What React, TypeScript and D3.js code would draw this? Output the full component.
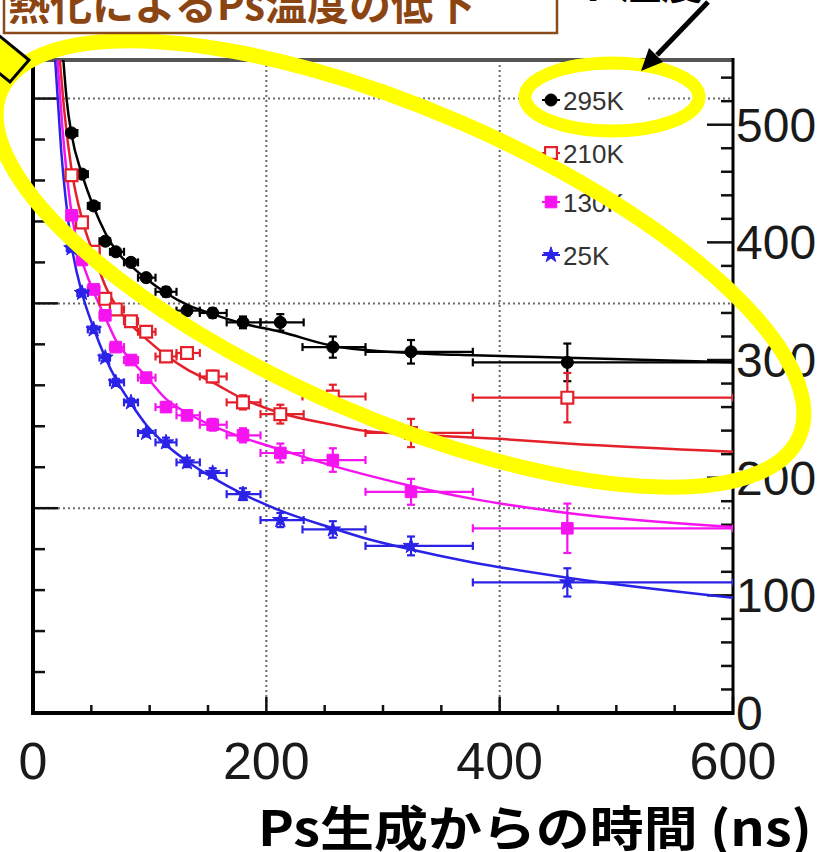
import React, { useEffect, useRef } from 'react';
import * as d3 from 'd3';

// time bins (ns) shared by all temperatures
const times = [33, 42, 52, 62, 71, 84, 97, 114, 132, 154, 180, 212, 257, 324, 458];
const binLo = [29, 38, 47, 57, 66, 78, 90, 105, 123, 143, 166, 195, 231, 285, 377];
const binHi = [38, 47, 57, 66, 78, 90, 105, 123, 143, 166, 195, 232, 285, 377, 600];

// Ps temperature (K) per target temperature
const temp295 = [493, 458, 431, 401, 392, 383, 370, 358, 342, 340, 332, 332, 311, 307, 298];
const err295 = [3, 3, 3, 3, 3, 3, 3, 4, 4, 4, 5, 7, 9, 10, 16];
const temp210 = [457, 417, 392, 352, 343, 333, 324, 303, 306, 286, 264, 254, 269, 238, 268];
const err210 = [3, 3, 3, 3, 3, 3, 4, 4, 4, 5, 6, 8, 10, 12, 21];
const temp130 = [423, 385, 360, 338, 311, 300, 285, 260, 253, 245, 236, 221, 215, 188, 157];
const err130 = [3, 3, 3, 3, 3, 3, 4, 4, 4, 5, 6, 8, 10, 11, 21];
const temp25 = [395, 357, 326, 302, 281, 264, 238, 230, 213, 204, 186, 164, 156, 142, 111];
const err25 = [3, 3, 3, 3, 3, 3, 3, 4, 4, 4, 5, 6, 7, 8, 12];

// fitted curves: [time ns, temperature K]
const fit295: [number, number][] = [[26, 555], [29, 520], [33, 492], [42, 458], [52, 430], [62, 408], [72, 392], [84, 380], [97, 369], [114, 357], [132, 347], [154, 339], [180, 331], [212, 324], [257, 312], [324, 306], [377, 304], [458, 302], [600, 298]];
const fit210: [number, number][] = [[23, 555], [27, 510], [33, 462], [42, 420], [52, 390], [62, 363], [72, 345], [84, 330], [97, 318], [114, 304], [132, 292], [154, 281], [180, 267], [212, 255], [257, 245], [283, 240], [324, 237], [400, 233], [458, 229], [600, 222]];
const fit130: [number, number][] = [[21, 555], [25, 500], [33, 425], [42, 385], [52, 358], [62, 336], [72, 315], [84, 300], [97, 286], [114, 267], [132, 255], [154, 244], [180, 234], [212, 224], [257, 210], [283, 203], [324, 193], [377, 182], [458, 170], [600, 158]];
const fit25: [number, number][] = [[19, 555], [24, 480], [33, 398], [42, 357], [52, 327], [62, 302], [72, 282], [84, 263], [97, 245], [114, 228], [132, 214], [154, 200], [180, 186], [212, 172], [257, 157], [283, 149], [324, 139], [377, 128], [458, 115], [600, 98]];

const labels = ['295K', '210K', '130K', '25K'];
const xTickLabels = [0, 200, 400, 600];
const yTickLabels = [0, 100, 200, 300, 400, 500];

const series = [
  { label: labels[0], color: '#000000', shape: 'circle', values: temp295, errors: err295, fit: fit295 },
  { label: labels[1], color: '#e4202a', shape: 'openSquare', values: temp210, errors: err210, fit: fit210 },
  { label: labels[2], color: '#f514f0', shape: 'square', values: temp130, errors: err130, fit: fit130 },
  { label: labels[3], color: '#2a22e6', shape: 'star', values: temp25, errors: err25, fit: fit25 },
];

const kB = 0.08617; // meV per K

function drawMarker(g: any, shape: string, color: string, cx: number, cy: number) {
  const symType = shape === 'circle' ? d3.symbolCircle : shape === 'star' ? d3.symbolStar : d3.symbolSquare;
  const size = shape === 'circle' ? 115 : shape === 'star' ? 75 : shape === 'openSquare' ? 140 : 135;
  g.append('path')
    .attr('d', d3.symbol().type(symType).size(size)())
    .attr('transform', `translate(${cx},${cy})`)
    .attr('fill', shape === 'openSquare' ? '#ffffff' : color)
    .attr('stroke', color)
    .attr('stroke-width', shape === 'openSquare' ? 2.2 : 1);
}

function Chart() {
  const svgRef = useRef<SVGSVGElement>(null);

  useEffect(() => {
    const svg = d3.select(svgRef.current);
    svg.selectAll('*').remove();

    const x = d3.scaleLinear().domain([0, 600]).range([33, 733]);
    const y = d3.scaleLinear().domain([0, 555]).range([713, 60]);
    const yE = d3.scaleLinear().domain([0, 555 * kB]).range([713, 60]);
    const [x0, x1] = x.range();
    const [yb, yt] = y.range();

    svg.append('rect').attr('width', 820).attr('height', 852).attr('fill', '#ffffff');

    const defs = svg.append('defs');
    defs.append('clipPath').attr('id', 'plotClip')
      .append('rect').attr('x', x0).attr('y', yt).attr('width', x1 - x0).attr('height', yb - yt);

    // dotted grid
    const grid = svg.append('g').attr('stroke', '#6a6a6a').attr('stroke-width', 2).attr('stroke-dasharray', '2 3');
    [15, 30, 45].forEach(v => {
      grid.append('line').attr('x1', x0).attr('x2', x1).attr('y1', yE(v)).attr('y2', yE(v));
    });
    [200, 400].forEach(v => {
      grid.append('line').attr('x1', x(v)).attr('x2', x(v)).attr('y1', yt).attr('y2', yb);
    });

    // ticks
    const ticks = svg.append('g').attr('stroke', '#111').attr('stroke-width', 2.5);
    d3.range(0, 601, 50).forEach(v => {
      const len = v % 200 === 0 ? 16 : 8;
      ticks.append('line').attr('x1', x(v)).attr('x2', x(v)).attr('y1', yb).attr('y2', yb - len);
    });
    d3.range(0, 48, 3).forEach(v => {
      const len = v % 15 === 0 ? 25 : 12;
      ticks.append('line').attr('x1', x0).attr('x2', x0 + len).attr('y1', yE(v)).attr('y2', yE(v));
    });
    d3.range(0, 555, 20).forEach(v => {
      const len = v % 100 === 0 ? 26 : 12;
      ticks.append('line').attr('x1', x1).attr('x2', x1 - len).attr('y1', y(v)).attr('y2', y(v));
    });

    // frame
    svg.append('line').attr('x1', x0 - 1).attr('x2', x1 + 1).attr('y1', yt).attr('y2', yt)
      .attr('stroke', '#555').attr('stroke-width', 4);
    svg.append('line').attr('x1', x0).attr('x2', x0).attr('y1', yt - 2).attr('y2', yb + 2)
      .attr('stroke', '#000').attr('stroke-width', 4);
    svg.append('line').attr('x1', x0 - 2).attr('x2', x1 + 1).attr('y1', yb).attr('y2', yb)
      .attr('stroke', '#000').attr('stroke-width', 4);
    svg.append('line').attr('x1', x1).attr('x2', x1).attr('y1', yt - 2).attr('y2', yb + 2)
      .attr('stroke', '#000').attr('stroke-width', 3);

    // tick labels
    const font = '"Liberation Sans", Arial, Helvetica, sans-serif';
    svg.append('g').selectAll('text').data(xTickLabels).join('text')
      .attr('x', d => x(d)).attr('y', 779)
      .attr('text-anchor', 'middle').attr('font-family', font).attr('font-size', 52)
      .attr('fill', '#1a1a1a').text(d => d);
    svg.append('g').selectAll('text').data(yTickLabels).join('text')
      .attr('x', 736).attr('y', d => y(d) + 17)
      .attr('text-anchor', 'start').attr('font-family', font).attr('font-size', 48)
      .attr('fill', '#1a1a1a').text(d => d);

    // data
    const plot = svg.append('g').attr('clip-path', 'url(#plotClip)');
    const lineFn = d3.line<[number, number]>()
      .curve(d3.curveMonotoneX)
      .x(d => x(d[0]))
      .y(d => y(d[1]));

    series.forEach(s => {
      plot.append('path').attr('d', lineFn(s.fit)).attr('fill', 'none')
        .attr('stroke', s.color).attr('stroke-width', 2.5);
    });

    series.forEach(s => {
      const g = plot.append('g');
      const bars = g.append('g').attr('stroke', s.color).attr('stroke-width', 2.2);
      times.forEach((t, i) => {
        const v = s.values[i];
        const e = s.errors[i];
        bars.append('line').attr('x1', x(binLo[i])).attr('x2', x(binHi[i])).attr('y1', y(v)).attr('y2', y(v));
        bars.append('line').attr('x1', x(binLo[i])).attr('x2', x(binLo[i])).attr('y1', y(v) - 4).attr('y2', y(v) + 4);
        bars.append('line').attr('x1', x(binHi[i])).attr('x2', x(binHi[i])).attr('y1', y(v) - 4).attr('y2', y(v) + 4);
        bars.append('line').attr('x1', x(t)).attr('x2', x(t)).attr('y1', y(v - e)).attr('y2', y(v + e));
        bars.append('line').attr('x1', x(t) - 4).attr('x2', x(t) + 4).attr('y1', y(v - e)).attr('y2', y(v - e));
        bars.append('line').attr('x1', x(t) - 4).attr('x2', x(t) + 4).attr('y1', y(v + e)).attr('y2', y(v + e));
      });
      times.forEach((t, i) => drawMarker(g, s.shape, s.color, x(t), y(s.values[i])));
    });

    // legend
    const legend = svg.append('g');
    legend.append('rect').attr('x', 528).attr('y', 78).attr('width', 118).attr('height', 198).attr('fill', '#ffffff');
    const legendRows = [100, 153, 202, 255];
    series.forEach((s, i) => {
      const cy = legendRows[i];
      legend.append('line').attr('x1', 542).attr('x2', 560).attr('y1', cy).attr('y2', cy)
        .attr('stroke', s.color).attr('stroke-width', 2);
      drawMarker(legend, s.shape, s.color, 551, cy);
      legend.append('text').attr('x', 563).attr('y', cy + 10)
        .attr('font-family', font).attr('font-size', 26).attr('fill', '#333')
        .text(s.label);
    });

    // annotations
    const ann = svg.append('g');
    ann.append('ellipse').attr('cx', 400).attr('cy', 264).attr('rx', 435).attr('ry', 154)
      .attr('transform', 'rotate(23.4 400 264)')
      .attr('fill', 'none').attr('stroke', '#ffff00').attr('stroke-width', 15);
    ann.append('ellipse').attr('cx', 612).attr('cy', 97).attr('rx', 87).attr('ry', 34)
      .attr('fill', 'none').attr('stroke', '#ffff00').attr('stroke-width', 13);
    ann.append('polygon').attr('points', '-39,42 -20,20 29,60 10,82')
      .attr('fill', '#ffff00').attr('stroke', '#000').attr('stroke-width', 3);

    ann.append('line').attr('x1', 708).attr('y1', 2).attr('x2', 657).attr('y2', 55)
      .attr('stroke', '#000').attr('stroke-width', 5);
    ann.append('polygon').attr('points', '641,71 663,62 649,48').attr('fill', '#000');

    ann.append('text').attr('x', 703).attr('y', -1).attr('text-anchor', 'end')
      .attr('font-family', '"Noto Sans CJK JP", sans-serif').attr('font-weight', 700)
      .attr('font-size', 42).attr('fill', '#000').text('ターゲット温度');

    ann.append('rect').attr('x', 4).attr('y', -10).attr('width', 553).attr('height', 43)
      .attr('fill', '#ffffff').attr('stroke', '#8b4a1c').attr('stroke-width', 2.5);
    ann.append('text').attr('x', 8).attr('y', 20)
      .attr('font-family', '"Noto Sans CJK JP", sans-serif').attr('font-weight', 700)
      .attr('font-size', 42).attr('fill', '#8b4513')
      .attr('textLength', 467).attr('lengthAdjust', 'spacingAndGlyphs')
      .text('熱化によるPs温度の低下');

    svg.append('text').attr('x', 258).attr('y', 846)
      .attr('font-family', '"Noto Sans CJK JP", sans-serif').attr('font-weight', 700)
      .attr('font-size', 48).attr('fill', '#000')
      .attr('textLength', 554).attr('lengthAdjust', 'spacingAndGlyphs')
      .text('Ps生成からの時間 (ns)');
  }, []);

  return (
    <svg
      ref={svgRef}
      width={820}
      height={852}
      viewBox="0 0 820 852"
      style={{ position: 'absolute', left: 0, top: 0, display: 'block' }}
    />
  );
}

export default function App() {
  return <Chart />;
}
